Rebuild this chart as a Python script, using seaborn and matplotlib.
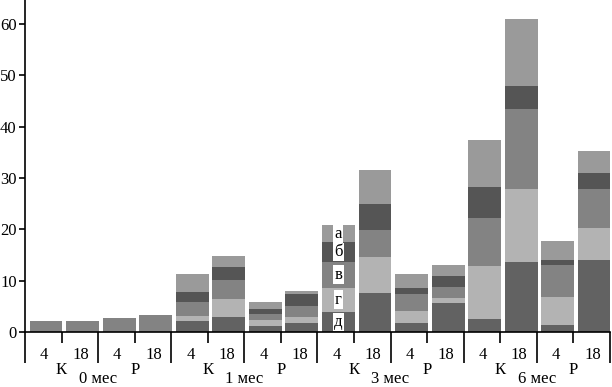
import matplotlib
matplotlib.use("Agg")
import matplotlib.pyplot as plt
import seaborn as sns
import numpy as np
import pandas as pd

# ---- data ----
time_labels = ["0 мес", "1 мес", "3 мес", "6 мес"]
group_labels = ["К", "Р"]
dose_labels = ["4", "18"]
seg_names = ["д", "г", "в", "б", "а"]  # bottom -> top

d_vals = [0.0, 0.0, 0.0, 0.0, 2.1, 3.0, 1.2, 1.9, 4.0, 7.6, 1.75, 5.6, 2.5, 13.7, 1.4, 14.1]
g_vals = [0.0, 0.0, 0.0, 0.0, 1.1, 3.5, 1.2, 1.1, 4.7, 7.0, 2.35, 1.1, 10.4, 14.1, 5.4, 6.1]
v_vals = [2.2, 2.2, 2.8, 3.3, 2.6, 3.7, 1.2, 2.1, 5.0, 5.3, 3.3, 2.2, 9.3, 15.6, 6.3, 7.6]
b_vals = [0.0, 0.0, 0.0, 0.0, 2.1, 2.4, 0.9, 2.3, 3.8, 5.0, 1.3, 2.1, 6.1, 4.5, 1.0, 3.1]
a_vals = [0.0, 0.0, 0.0, 0.0, 3.4, 2.3, 1.3, 0.7, 3.3, 6.7, 2.6, 2.1, 9.0, 13.0, 3.7, 4.4]

seg_colors = ["#626262", "#b3b3b3", "#838383", "#555555", "#9a9a9a"]

# ---- build table ----
cats = []
for t in time_labels:
    for g in group_labels:
        for d in dose_labels:
            cats.append(f"{t}|{g}|{d}")
layers = np.array([d_vals, g_vals, v_vals, b_vals, a_vals])
cum = np.cumsum(layers, axis=0)
df = pd.DataFrame({"cat": cats})
for i, name in enumerate(seg_names):
    df[name] = cum[i]

plt.rcParams["font.family"] = ["Liberation Serif", "DejaVu Serif"]
FS = 12
fig = plt.figure(figsize=(6.12, 3.87), dpi=100)
ax = fig.add_axes([25 / 612, (387 - 332.3) / 387, (609.8 - 25) / 612, 332.3 / 387])

# draw from top cumulative down so segments appear stacked
for i in range(len(seg_names) - 1, -1, -1):
    sns.barplot(data=df, x="cat", y=seg_names[i], color=seg_colors[i],
                width=0.9, saturation=1, ax=ax, order=cats, errorbar=None,
                edgecolor="none", linewidth=0)

ax.set_xlim(-0.575, 15.425)
ax.set_ylim(0, 64.6)
ax.set_yticks([0, 10, 20, 30, 40, 50, 60])
ax.set_yticklabels(["0", "10", "20", "30", "40", "50", "60"], fontsize=FS)
ax.set_xticks([])
ax.set_xlabel("")
ax.set_ylabel("")
for s in ["top", "right"]:
    ax.spines[s].set_visible(False)
ax.spines["left"].set_linewidth(1.2)
ax.spines["bottom"].set_linewidth(1.2)
ax.tick_params(axis="y", length=4.5, width=1.2, pad=1.5, direction="out")

# x-axis hierarchical labels
tr = ax.get_xaxis_transform()
H = 332.3
def yf(p):
    return (H - p) / H

for k in range(16):
    ax.text(k - 0.05, yf(355), dose_labels[k % 2], transform=tr,
            ha="center", va="center", fontsize=FS, clip_on=False)
for k in range(17):
    xpos = -0.575 + k
    if k % 2 == 0:
        y_end = yf(363)
    else:
        y_end = yf(343)
    ax.plot([xpos, xpos], [0, y_end], transform=tr, color="black",
            lw=1.2, clip_on=False, solid_capstyle="butt")
for j in range(8):
    xpos = -0.575 + 2 * j + 1
    ax.text(xpos, yf(370), group_labels[j % 2], transform=tr,
            ha="center", va="center", fontsize=FS, clip_on=False)
for j, t in enumerate(time_labels):
    xpos = -0.575 + 4 * j + 2
    ax.text(xpos, yf(379), t, transform=tr,
            ha="center", va="center", fontsize=FS, clip_on=False)

# segment name labels on bar 8
k = 8
for i, name in enumerate(seg_names):
    lo = cum[i - 1][k] if i > 0 else 0
    mid = lo + layers[i][k] / 2
    ax.text(k, mid, name, ha="center", va="center", fontsize=FS,
            bbox=dict(facecolor="white", edgecolor="none", pad=1.0))

fig.savefig("out.png", dpi=100)
